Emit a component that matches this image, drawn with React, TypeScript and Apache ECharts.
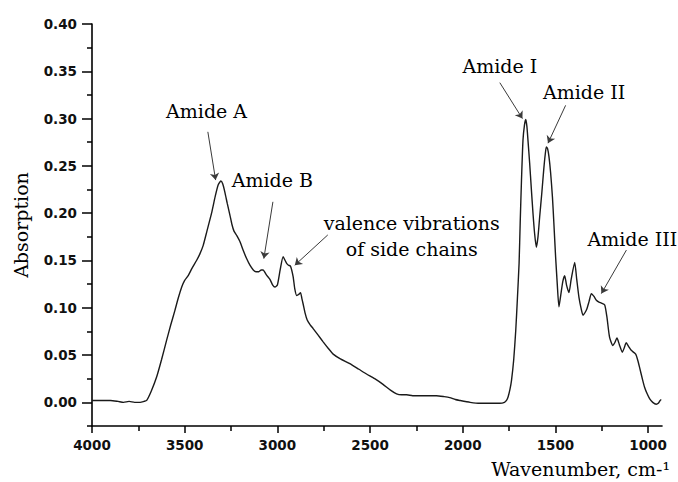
import React, { useEffect, useRef } from "react";
import * as echarts from "echarts";

const wavenumbers = [
  4000, 3950, 3900, 3860, 3830, 3800, 3770, 3740, 3720, 3705, 3680, 3651, 3625, 3597, 3575, 3553, 3535, 3516, 3500,
  3481, 3460, 3436, 3418, 3400, 3380, 3355, 3335, 3319, 3305, 3295, 3283, 3270, 3256, 3245, 3234, 3218, 3202, 3185,
  3166, 3148, 3130, 3115, 3100, 3087, 3077, 3060, 3040, 3025, 3013, 3000, 2985, 2969, 2958, 2950, 2940, 2929, 2915,
  2906, 2896, 2885, 2875, 2868, 2861, 2850, 2839, 2823, 2807, 2780, 2753, 2725, 2699, 2660, 2609, 2560, 2519, 2475,
  2430, 2390, 2357, 2330, 2303, 2270, 2232, 2190, 2142, 2100, 2070, 2040, 2016, 1960, 1908, 1860, 1800, 1775, 1764,
  1755, 1745, 1737, 1725, 1714, 1705, 1696, 1690, 1683, 1675, 1667, 1660, 1654, 1648, 1639, 1630, 1621, 1612, 1603,
  1594, 1585, 1574, 1563, 1555, 1549, 1542, 1535, 1526, 1516, 1508, 1499, 1490, 1481, 1470, 1460, 1450, 1440, 1427,
  1415, 1396, 1385, 1373, 1360, 1351, 1340, 1330, 1318, 1306, 1292, 1279, 1265, 1252, 1234, 1222, 1208, 1190, 1180,
  1168, 1155, 1139, 1128, 1118, 1105, 1091, 1067, 1055, 1046, 1030, 1019, 1005, 992, 975, 956, 945, 935, 929,
];

const absorption = [
  0.002, 0.002, 0.002, 0.001, 0.0, 0.001, 0.0, 0.0, 0.001, 0.002, 0.012, 0.027, 0.045, 0.066, 0.082, 0.097, 0.11, 0.122, 0.129,
  0.134, 0.142, 0.15, 0.157, 0.166, 0.181, 0.2, 0.218, 0.23, 0.234, 0.231, 0.222, 0.21, 0.198, 0.188, 0.181, 0.176, 0.17, 0.161,
  0.152, 0.145, 0.14, 0.138, 0.138, 0.14, 0.14, 0.135, 0.13, 0.124, 0.122, 0.124, 0.14, 0.154, 0.15, 0.147, 0.145, 0.144, 0.133,
  0.12, 0.113, 0.114, 0.116, 0.11, 0.104, 0.094, 0.087, 0.082, 0.078, 0.071, 0.064, 0.057, 0.051, 0.046, 0.041, 0.035, 0.03, 0.025,
  0.019, 0.013, 0.009, 0.008, 0.008, 0.007, 0.007, 0.007, 0.007, 0.006, 0.005, 0.003, 0.002, 0.0, -0.001, -0.001, -0.001, 0.0, 0.002,
  0.006, 0.014, 0.023, 0.045, 0.076, 0.11, 0.147, 0.19, 0.235, 0.277, 0.293, 0.299, 0.292, 0.277, 0.253, 0.226, 0.2, 0.178, 0.164,
  0.175, 0.196, 0.22, 0.246, 0.262, 0.27, 0.268, 0.26, 0.243, 0.217, 0.188, 0.154, 0.125, 0.101, 0.115, 0.128, 0.134, 0.124, 0.116,
  0.13, 0.148, 0.13, 0.111, 0.098, 0.092, 0.095, 0.099, 0.107, 0.115, 0.112, 0.108, 0.106, 0.105, 0.103, 0.09, 0.069, 0.06, 0.063,
  0.068, 0.061, 0.053, 0.058, 0.063, 0.059, 0.055, 0.051, 0.044, 0.037, 0.024, 0.016, 0.009, 0.004, 0.0, -0.002, -0.001, 0.002, 0.003,
];

const yTickLabels = [0, 0.05, 0.1, 0.15, 0.2, 0.25, 0.3, 0.35, 0.4];
const yMinorTicks = [-0.025, 0.025, 0.075, 0.125, 0.175, 0.225, 0.275, 0.325, 0.375];
const xTickLabels = [4000, 3500, 3000, 2500, 2000, 1500, 1000];
const xMinorTicks = [3750, 3250, 2750, 2250, 1750, 1250];

const annotationNames = [
  "Amide A",
  "Amide B",
  "valence vibrations\nof side chains",
  "Amide I",
  "Amide II",
  "Amide III",
];
const annotationTextAt = [
  [3382, 0.3085],
  [3027, 0.2347],
  [2275, 0.1762],
  [1800, 0.3561],
  [1345, 0.3286],
  [1085, 0.173],
];
const arrowFrom = [
  [3375, 0.286],
  [3024, 0.212],
  [2728, 0.177],
  [1800, 0.338],
  [1445, 0.314],
  [1117, 0.161],
];
const arrowTo = [
  [3333, 0.235],
  [3073, 0.152],
  [2906, 0.145],
  [1678, 0.3],
  [1540, 0.274],
  [1252, 0.115],
];

const SERIF = '"DejaVu Serif", serif';
const SANS = '"DejaVu Sans", sans-serif';

export default function App() {
  const ref = useRef<HTMLDivElement>(null);

  useEffect(() => {
    if (!ref.current) return;
    const chart = echarts.init(ref.current, null, { renderer: "svg" });
    const tickLabelStyle = {
      color: "#111",
      fontFamily: SANS,
      fontWeight: "bold" as const,
      fontSize: 13.5,
    };
    const option = {
      animation: false,
      backgroundColor: "#ffffff",
      grid: { left: 92, right: 16, top: 24, bottom: 56 },
      xAxis: [
        {
          type: "value",
          min: 925,
          max: 4000,
          inverse: true,
          position: "bottom",
          axisLine: { show: true, onZero: false, lineStyle: { color: "#000", width: 1.6 } },
          axisTick: { show: true, customValues: xTickLabels, length: 7, lineStyle: { color: "#000", width: 1.5 } },
          axisLabel: {
            show: true,
            customValues: xTickLabels,
            margin: 12,
            formatter: (v: number) => String(v),
            ...tickLabelStyle,
          },
          splitLine: { show: false },
        },
        {
          type: "value",
          min: 925,
          max: 4000,
          inverse: true,
          position: "bottom",
          axisLine: { show: false, onZero: false },
          axisTick: { show: true, customValues: xMinorTicks, length: 5, lineStyle: { color: "#000", width: 1.5 } },
          axisLabel: { show: false },
          splitLine: { show: false },
        },
      ],
      yAxis: [
        {
          type: "value",
          min: -0.025,
          max: 0.4,
          position: "left",
          name: "Absorption",
          nameLocation: "middle",
          nameGap: 62,
          nameTextStyle: { fontFamily: SERIF, fontSize: 19, color: "#000" },
          axisLine: { show: true, onZero: false, lineStyle: { color: "#000", width: 1.6 } },
          axisTick: { show: true, customValues: yTickLabels, length: 10, lineStyle: { color: "#000", width: 1.5 } },
          axisLabel: {
            show: true,
            customValues: yTickLabels,
            margin: 15,
            formatter: (v: number) => v.toFixed(2),
            ...tickLabelStyle,
          },
          splitLine: { show: false },
        },
        {
          type: "value",
          min: -0.025,
          max: 0.4,
          position: "left",
          axisLine: { show: false, onZero: false },
          axisTick: { show: true, customValues: yMinorTicks, length: 5, lineStyle: { color: "#000", width: 1.5 } },
          axisLabel: { show: false },
          splitLine: { show: false },
        },
      ],
      graphic: [
        {
          type: "text",
          right: 8,
          top: 459,
          style: {
            text: "Wavenumber, cm-¹",
            fontFamily: SERIF,
            fontSize: 19,
            fill: "#000",
          },
        },
      ],
      series: [
        {
          type: "line",
          xAxisIndex: 0,
          yAxisIndex: 0,
          data: wavenumbers.map((w, i) => [w, absorption[i]]),
          showSymbol: false,
          symbol: "none",
          smooth: 0.2,
          lineStyle: { color: "#1a1a1a", width: 1.4 },
          silent: true,
          markLine: {
            silent: true,
            symbol: ["none", "arrow"],
            symbolSize: 7,
            label: { show: false },
            lineStyle: { color: "#3a3a3a", width: 1, type: "solid" },
            emphasis: { disabled: true },
            data: arrowFrom.map((f, i) => [{ coord: f }, { coord: arrowTo[i] }]),
          },
          markPoint: {
            silent: true,
            symbol: "circle",
            symbolSize: 0,
            label: {
              show: true,
              position: "inside",
              formatter: "{b}",
              fontFamily: SERIF,
              fontSize: 19,
              lineHeight: 26,
              color: "#000",
              align: "center",
            },
            data: annotationNames.map((n, i) => ({ name: n, coord: annotationTextAt[i] })),
          },
        },
      ],
    };
    chart.setOption(option as any);
    return () => chart.dispose();
  }, []);

  return (
    <div
      ref={ref}
      style={{ position: "fixed", left: 0, top: 0, width: 678, height: 482, background: "#fff" }}
    />
  );
}
